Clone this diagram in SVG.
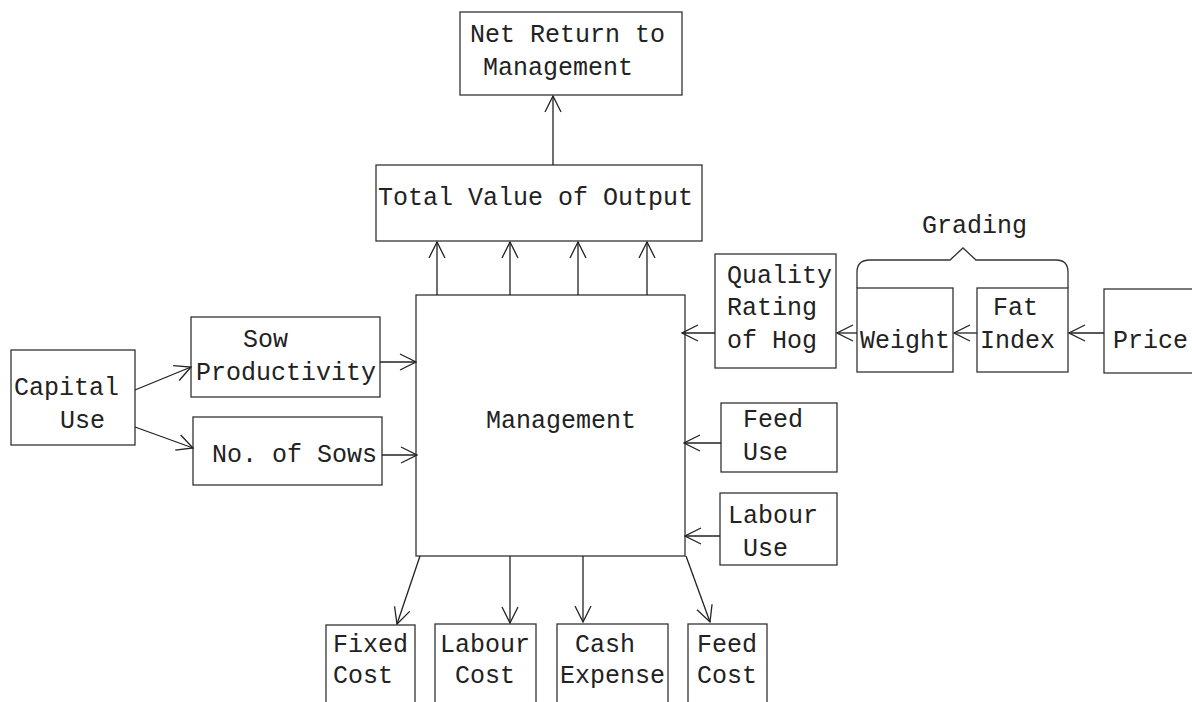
<svg xmlns="http://www.w3.org/2000/svg" width="1192" height="702" viewBox="0 0 1192 702">
<defs>
<marker id="ah" viewBox="0 0 20 20" refX="19" refY="10" markerWidth="20" markerHeight="20" markerUnits="userSpaceOnUse" orient="auto">
<path d="M3,2 L19,10 L3,18" fill="none" stroke="#222" stroke-width="1.3"/>
</marker>
</defs>
<style>
.b{fill:none;stroke:#333;stroke-width:1.3}
text{font-family:"Liberation Mono","Courier New",monospace;font-size:25px;fill:#222}
.c line,.c path{stroke:#222;stroke-width:1.3;fill:none}
.c line{marker-end:url(#ah)}
</style>
<rect width="1192" height="702" fill="#fff"/>
<g id="net-return"><rect class="b" x="460" y="12" width="222" height="83"/><text x="470" y="42">Net Return to</text><text x="483" y="75">Management</text></g>
<g id="total-value"><rect class="b" x="376" y="165" width="326" height="76"/><text x="378" y="205">Total Value of Output</text></g>
<g id="management"><rect class="b" x="416" y="295" width="269" height="261"/><text x="486" y="428">Management</text></g>
<g id="capital-use"><rect class="b" x="11" y="350" width="124" height="95"/><text x="14" y="395">Capital</text><text x="60" y="428">Use</text></g>
<g id="sow-productivity"><rect class="b" x="191" y="317" width="189" height="80"/><text x="243" y="347">Sow</text><text x="196" y="380">Productivity</text></g>
<g id="no-of-sows"><rect class="b" x="193" y="417" width="189" height="68"/><text x="212" y="462">No. of Sows</text></g>
<g id="quality"><rect class="b" x="715" y="254" width="121" height="114"/><text x="727" y="283">Quality</text><text x="727" y="315">Rating</text><text x="727" y="348">of Hog</text></g>
<g id="weight"><rect class="b" x="857" y="288" width="96" height="84"/><text x="860" y="348">Weight</text></g>
<g id="fat-index"><rect class="b" x="977" y="288" width="91" height="84"/><text x="993" y="315">Fat</text><text x="980" y="348">Index</text></g>
<g id="price"><rect class="b" x="1104" y="289" width="100" height="84"/><text x="1113" y="348">Price</text></g>
<g id="grading"><text x="922" y="233">Grading</text><path class="b" d="M857,288 L857,272 Q857,260 870,260 L950,260 L963,248 L976,260 L1056,260 Q1068,260 1068,272 L1068,288"/></g>
<g id="feed-use"><rect class="b" x="721" y="403" width="116" height="69"/><text x="743" y="427">Feed</text><text x="743" y="460">Use</text></g>
<g id="labour-use"><rect class="b" x="720" y="493" width="117" height="72"/><text x="728" y="523">Labour</text><text x="743" y="556">Use</text></g>
<g id="fixed-cost"><rect class="b" x="326" y="625" width="89" height="90"/><text x="333" y="652">Fixed</text><text x="333" y="683">Cost</text></g>
<g id="labour-cost"><rect class="b" x="435" y="624" width="101" height="90"/><text x="440" y="652">Labour</text><text x="455" y="683">Cost</text></g>
<g id="cash-expense"><rect class="b" x="557" y="624" width="111" height="90"/><text x="575" y="652">Cash</text><text x="560" y="683">Expense</text></g>
<g id="feed-cost"><rect class="b" x="688" y="624" width="79" height="90"/><text x="697" y="652">Feed</text><text x="697" y="683">Cost</text></g>
<g id="connectors" class="c">
<line x1="553" y1="165" x2="553" y2="96"/>
<line x1="437" y1="295" x2="437" y2="242"/>
<line x1="510" y1="295" x2="510" y2="242"/>
<line x1="578" y1="295" x2="578" y2="242"/>
<line x1="647" y1="295" x2="647" y2="242"/>
<line x1="135" y1="390" x2="191" y2="367"/>
<line x1="135" y1="427" x2="193" y2="448"/>
<line x1="380" y1="362" x2="416" y2="362"/>
<line x1="382" y1="455" x2="417" y2="455"/>
<line x1="715" y1="333" x2="682" y2="333"/>
<line x1="857" y1="333" x2="837" y2="333"/>
<line x1="977" y1="333" x2="954" y2="333"/>
<line x1="1104" y1="333" x2="1069" y2="333"/>
<line x1="721" y1="443" x2="684" y2="443"/>
<line x1="720" y1="536" x2="685" y2="536"/>
<line x1="420" y1="556" x2="397" y2="624"/>
<line x1="510" y1="556" x2="510" y2="623"/>
<line x1="583" y1="556" x2="583" y2="622"/>
<line x1="686" y1="556" x2="710" y2="622"/>
</g>
</svg>
